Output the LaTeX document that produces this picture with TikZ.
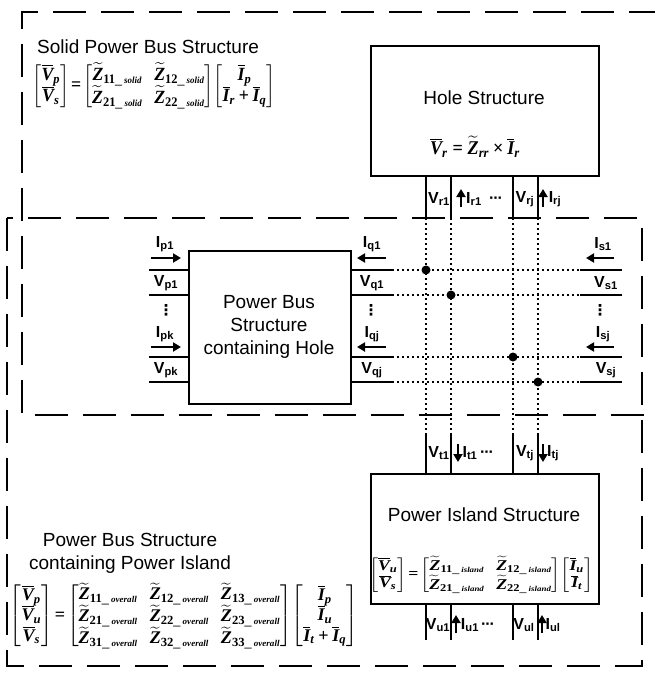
\documentclass[tikz,border=0pt]{standalone}
\usepackage{amsmath}
\usepackage{graphicx}
\usepackage{fontspec}
\setmainfont{Liberation Sans}
\newfontfamily\tnr{Liberation Serif}
\newfontfamily\djv{DejaVu Sans}
\usetikzlibrary{arrows.meta}
\newcommand{\pl}[2]{#1\textsubscript{#2}}
\newcommand{\bv}[1]{\text{\tnr\bfseries\itshape #1}}
\newcommand{\bn}[1]{\text{\tnr\bfseries #1}}
\newcommand{\vb}[1]{\overline{\bv{#1}}}
\newcommand{\zt}[2]{\widetilde{\bv{Z}}_{\bn{#1}\_\,{\scriptscriptstyle\bv{#2}}}}
\newcommand{\eqs}{\!\mathrel{\bn{=}}\!}
\newcommand{\vdt}{{\djv\bfseries ⋮}}
\newcommand{\hdt}{·\kern-1pt·\kern-1pt·}
\newcommand{\soleqn}{$\begin{bmatrix}\vb{V}_{\bv{p}}\\ \vb{V}_{\bv{s}}\end{bmatrix}\eqs\begin{bmatrix}\zt{11}{solid} & \zt{12}{solid}\\ \zt{21}{solid} & \zt{22}{solid}\end{bmatrix}\!\begin{bmatrix}\vb{I}_{\bv{p}}\\ \vb{I}_{\bv{r}}\mathbin{\bn{+}}\vb{I}_{\bv{q}}\end{bmatrix}$}
\newcommand{\oveqn}{$\begin{bmatrix}\vb{V}_{\bv{p}}\\ \vb{V}_{\bv{u}}\\ \vb{V}_{\bv{s}}\end{bmatrix}\eqs\begin{bmatrix}\zt{11}{overall} & \zt{12}{overall} & \zt{13}{overall}\\ \zt{21}{overall} & \zt{22}{overall} & \zt{23}{overall}\\ \zt{31}{overall} & \zt{32}{overall} & \zt{33}{overall}\end{bmatrix}\!\begin{bmatrix}\vb{I}_{\bv{p}}\\ \vb{I}_{\bv{u}}\\ \vb{I}_{\bv{t}}\mathbin{\bn{+}}\vb{I}_{\bv{q}}\end{bmatrix}$}
\newcommand{\holeeqn}{$\vb{V}_{\bv{r}}\mathrel{\bn{=}}\widetilde{\bv{Z}}_{\bv{rr}}\mathbin{\bn{\texttimes}}\vb{I}_{\bv{r}}$}
\newcommand{\isleqn}{$\begin{bmatrix}\vb{V}_{\bv{u}}\\ \vb{V}_{\bv{s}}\end{bmatrix}\eqs\begin{bmatrix}\zt{11}{island} & \zt{12}{island}\\ \zt{21}{island} & \zt{22}{island}\end{bmatrix}\!\begin{bmatrix}\vb{I}_{\bv{u}}\\ \vb{I}_{\bv{t}}\end{bmatrix}$}
\begin{document}
\begin{tikzpicture}[x=1pt,y=-1pt,
  dashbox/.style={line width=2.7pt, dash pattern=on 33pt off 15pt},
  solidbox/.style={draw, line width=2.4pt, inner sep=0pt, anchor=north west},
  port/.style={line width=2.4pt},
  dotline/.style={line width=2.2pt, dash pattern=on 2.4pt off 2.6pt},
  lbl/.style={font=\fontsize{16}{16}\selectfont\bfseries, inner sep=0pt},
  vdots/.style={font=\fontsize{15}{15}\selectfont, inner sep=0pt},
  ttl/.style={font=\fontsize{19}{23}\selectfont, align=center, inner sep=0pt},
  eqn/.style={font=\fontsize{15}{15}\selectfont, inner sep=0pt},
  harr/.style={line width=2.4pt, -{Triangle[length=8pt,width=9pt]}},
  jdot/.style={circle, fill, inner sep=0pt, minimum size=9pt}
]
\useasboundingbox (0,0) rectangle (655,677);

% dashed enclosures
\draw[dashbox] (662,12) -- (22,12) -- (22,415) -- (650,415);
\draw[dashbox] (7,218) rectangle (642,666);

% titles
\node[ttl, anchor=west] (soltitle) at (37,47) {Solid Power Bus Structure};
\node[eqn] (soleq) at (154,86) {\resizebox*{243pt}{46pt}{\soleqn}};

\node[ttl] (ovtitle) at (130,553) {Power Bus Structure\\containing Power Island};
\node[eqn] (oveq) at (184,616) {\resizebox*{348pt}{66pt}{\oveqn}};

% solid blocks
\node[solidbox, minimum width=228pt, minimum height=130pt] (hole) at (370,45) {};
\node[ttl] (holettl) at (484,98) {Hole Structure};
\node[eqn] (holeeq) at (475,147) {\resizebox*{90pt}{21pt}{\holeeqn}};

\node[solidbox, minimum width=162pt, minimum height=153pt] (pbh) at (188,250) {};
\node[ttl] (pbhttl) at (269,327) {Power Bus\\Structure\\containing Hole};

\node[solidbox, minimum width=228pt, minimum height=130pt] (isl) at (370,473) {};
\node[ttl] (islttl) at (484,515) {Power Island Structure};
\node[eqn] (isleq) at (481,575) {\resizebox*{224pt}{37pt}{\isleqn}};

% vertical port columns
\foreach \x/\n in {426/a,451/b,513/c,538/d}{
  \coordinate (ht\n) at (\x,175);
  \coordinate (hm\n) at (\x,218);
  \coordinate (im\n) at (\x,435);
  \coordinate (it\n) at (\x,473);
  \coordinate (ib\n) at (\x,603);
  \coordinate (ie\n) at (\x,640);
  \draw[port] (ht\n) -- (hm\n);
  \draw[dotline] (hm\n) -- (im\n);
  \draw[port] (im\n) -- (it\n);
  \draw[port] (ib\n) -- (ie\n);
}

% horizontal port rows
\foreach \y/\n in {270/a,295/b,357/c,382/d}{
  \coordinate (pl\n) at (149,\y);
  \coordinate (pr\n) at (188,\y);
  \coordinate (ql\n) at (350,\y);
  \coordinate (qr\n) at (392,\y);
  \coordinate (sl\n) at (580,\y);
  \coordinate (sr\n) at (622,\y);
  \draw[port] (pl\n) -- (pr\n);
  \draw[port] (ql\n) -- (qr\n);
  \draw[dotline] (qr\n) -- (sl\n);
  \draw[port] (sl\n) -- (sr\n);
}

% junctions
\node[jdot] (j1) at (426,270) {};
\node[jdot] (j2) at (451,295) {};
\node[jdot] (j3) at (513,357) {};
\node[jdot] (j4) at (538,382) {};

% left labels (p)
\node[lbl] (ip1) at (165,244) {\pl{I}{p1}};
\coordinate (ap1s) at (151,258); \coordinate (ap1e) at (181,258);
\draw[harr] (ap1s) -- (ap1e);
\node[lbl] (vp1) at (166,283) {\pl{V}{p1}};
\node[vdots] (pdots) at (166,310) {\vdt};
\node[lbl] (ipk) at (165,334) {\pl{I}{pk}};
\coordinate (apks) at (151,347); \coordinate (apke) at (181,347);
\draw[harr] (apks) -- (apke);
\node[lbl] (vpk) at (166,370) {\pl{V}{pk}};

% q labels
\node[lbl] (iq1) at (372,244) {\pl{I}{q1}};
\coordinate (aq1s) at (386,258); \coordinate (aq1e) at (357,258);
\draw[harr] (aq1s) -- (aq1e);
\node[lbl] (vq1) at (372,283) {\pl{V}{q1}};
\node[vdots] (qdots) at (371,310) {\vdt};
\node[lbl] (iqj) at (372,334) {\pl{I}{qj}};
\coordinate (aqjs) at (386,347); \coordinate (aqje) at (357,347);
\draw[harr] (aqjs) -- (aqje);
\node[lbl] (vqj) at (372,370) {\pl{V}{qj}};

% s labels
\node[lbl] (is1) at (603,244) {\pl{I}{s1}};
\coordinate (as1s) at (614,258); \coordinate (as1e) at (586,258);
\draw[harr] (as1s) -- (as1e);
\node[lbl] (vs1) at (606,283) {\pl{V}{s1}};
\node[vdots] (sdots) at (600,310) {\vdt};
\node[lbl] (isj) at (603,334) {\pl{I}{sj}};
\coordinate (asjs) at (614,347); \coordinate (asje) at (586,347);
\draw[harr] (asjs) -- (asje);
\node[lbl] (vsj) at (606,370) {\pl{V}{sj}};

% r labels (under hole)
\node[lbl] (vr1) at (439,199) {\pl{V}{r1}};
\coordinate (ar1s) at (461,207); \coordinate (ar1e) at (461,189);
\draw[harr] (ar1s) -- (ar1e);
\node[lbl] (ir1) at (474,199) {\pl{I}{r1}};
\node[lbl] (rdots) at (496,200) {\hdt};
\node[lbl] (vrj) at (525,199) {\pl{V}{rj}};
\coordinate (arjs) at (543,207); \coordinate (arje) at (543,189);
\draw[harr] (arjs) -- (arje);
\node[lbl] (irj) at (555,199) {\pl{I}{rj}};

% t labels (above island)
\node[lbl] (vt1) at (439,453) {\pl{V}{t1}};
\coordinate (at1s) at (458,444); \coordinate (at1e) at (458,462);
\draw[harr] (at1s) -- (at1e);
\node[lbl] (it1) at (470,453) {\pl{I}{t1}};
\node[lbl] (tdots) at (487,454) {\hdt};
\node[lbl] (vtj) at (525,453) {\pl{V}{tj}};
\coordinate (atjs) at (543,444); \coordinate (atje) at (543,462);
\draw[harr] (atjs) -- (atje);
\node[lbl] (itj) at (553,453) {\pl{I}{tj}};

% u labels (below island)
\node[lbl] (vu1) at (438,625) {\pl{V}{u1}};
\coordinate (au1s) at (456,633); \coordinate (au1e) at (456,615);
\draw[harr] (au1s) -- (au1e);
\node[lbl] (iu1) at (470,625) {\pl{I}{u1}};
\node[lbl] (udots) at (488,626) {\hdt};
\node[lbl] (vul) at (524,625) {\pl{V}{ul}};
\coordinate (auls) at (542,633); \coordinate (aule) at (542,615);
\draw[harr] (auls) -- (aule);
\node[lbl] (iul) at (553,625) {\pl{I}{ul}};
\end{tikzpicture}
\end{document}
